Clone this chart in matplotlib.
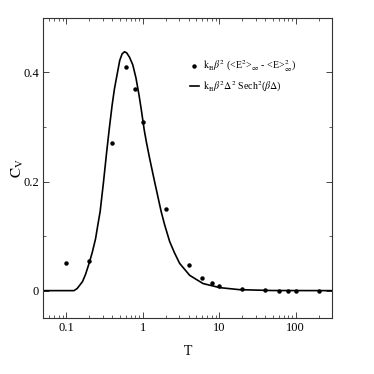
import matplotlib
matplotlib.use("Agg")
import matplotlib.pyplot as plt
from matplotlib.ticker import FuncFormatter, MultipleLocator, LogLocator, NullFormatter

plt.rcParams['font.family'] = 'Liberation Serif'
plt.rcParams['mathtext.fontset'] = 'stix'

# simulation points  k_B b^2 (<E^2> - <E>^2)
T_sim = [0.1, 0.2, 0.4, 0.6, 0.8, 1, 2, 4, 6, 8, 10, 20, 40, 60, 80, 100, 200]
C_sim = [0.051, 0.054, 0.27, 0.41, 0.37, 0.31, 0.15, 0.047, 0.024, 0.0135,
         0.0086, 0.003, 0.001, 0.0, 0.0, 0.0, 0.0]

# analytic curve
T_fit = [0.05, 0.127, 0.14, 0.164, 0.18, 0.2, 0.22, 0.243, 0.26, 0.279,
         0.308, 0.34, 0.366, 0.40, 0.429, 0.47, 0.503, 0.54, 0.58, 0.62,
         0.675, 0.745, 0.82, 0.9, 0.96, 1.05, 1.12, 1.235, 1.4, 1.587,
         1.75, 1.94, 2.26, 2.6, 3.05, 4.13, 6.17, 10.2, 18.4, 50, 300]
C_fit = [0.0, 0.0, 0.004, 0.0165, 0.03, 0.05, 0.07, 0.095, 0.12, 0.145,
         0.198, 0.255, 0.295, 0.34, 0.37, 0.40, 0.422, 0.434, 0.438, 0.436,
         0.428, 0.414, 0.39, 0.358, 0.333, 0.295, 0.273, 0.243, 0.207, 0.172,
         0.145, 0.121, 0.09, 0.07, 0.05, 0.028, 0.013, 0.0055, 0.0018,
         0.0002, 0.0]

fig = plt.figure(figsize=(3.74, 3.74), dpi=100)
ax = fig.add_axes([0.115, 0.150, 0.773, 0.802])

ax.plot(T_sim, C_sim, 'o', color='black', markersize=2.2, linestyle='none',
        label=r'$\mathrm{k_B}\beta^2$ (<E$^2$>$_\infty$ - <E>$^2_\infty$)')
ax.plot(T_fit, C_fit, '-', color='black', linewidth=1.2,
        label=r'$\mathrm{k_B}\beta^2\Delta^2$ Sech$^2$($\beta\Delta$)')

ax.set_xscale('log')
ax.set_xlim(0.05, 300)
ax.set_ylim(-0.05, 0.5)

ax.yaxis.set_major_locator(MultipleLocator(0.2))
ax.yaxis.set_minor_locator(MultipleLocator(0.1))
ax.yaxis.set_major_formatter(FuncFormatter(lambda v, p: '%g' % round(v, 3)))
ax.xaxis.set_major_locator(LogLocator(base=10))
ax.xaxis.set_minor_locator(LogLocator(base=10, subs=range(2, 10)))
ax.xaxis.set_minor_formatter(NullFormatter())
ax.xaxis.set_major_formatter(FuncFormatter(lambda v, p: '%g' % v))

ax.tick_params(which='both', direction='in', top=True, right=True,
               labelsize=9, pad=3, color='#444444')
ax.tick_params(which='major', length=4, width=0.7)
ax.tick_params(which='minor', length=2.5, width=0.6)
for s in ax.spines.values():
    s.set_linewidth(0.8)
    s.set_color('#333333')

ax.set_xlabel('T', fontsize=10, labelpad=8)
ax.set_ylabel(r'$\mathrm{C_V}$', fontsize=11, labelpad=-2)

ax.legend(loc='upper right', bbox_to_anchor=(0.875, 0.865), frameon=False,
          fontsize=7.2, handlelength=0.9, handletextpad=0.4, labelspacing=0.55,
          borderpad=0, borderaxespad=0, markerscale=1.0)

fig.savefig('out.png', dpi=100)
